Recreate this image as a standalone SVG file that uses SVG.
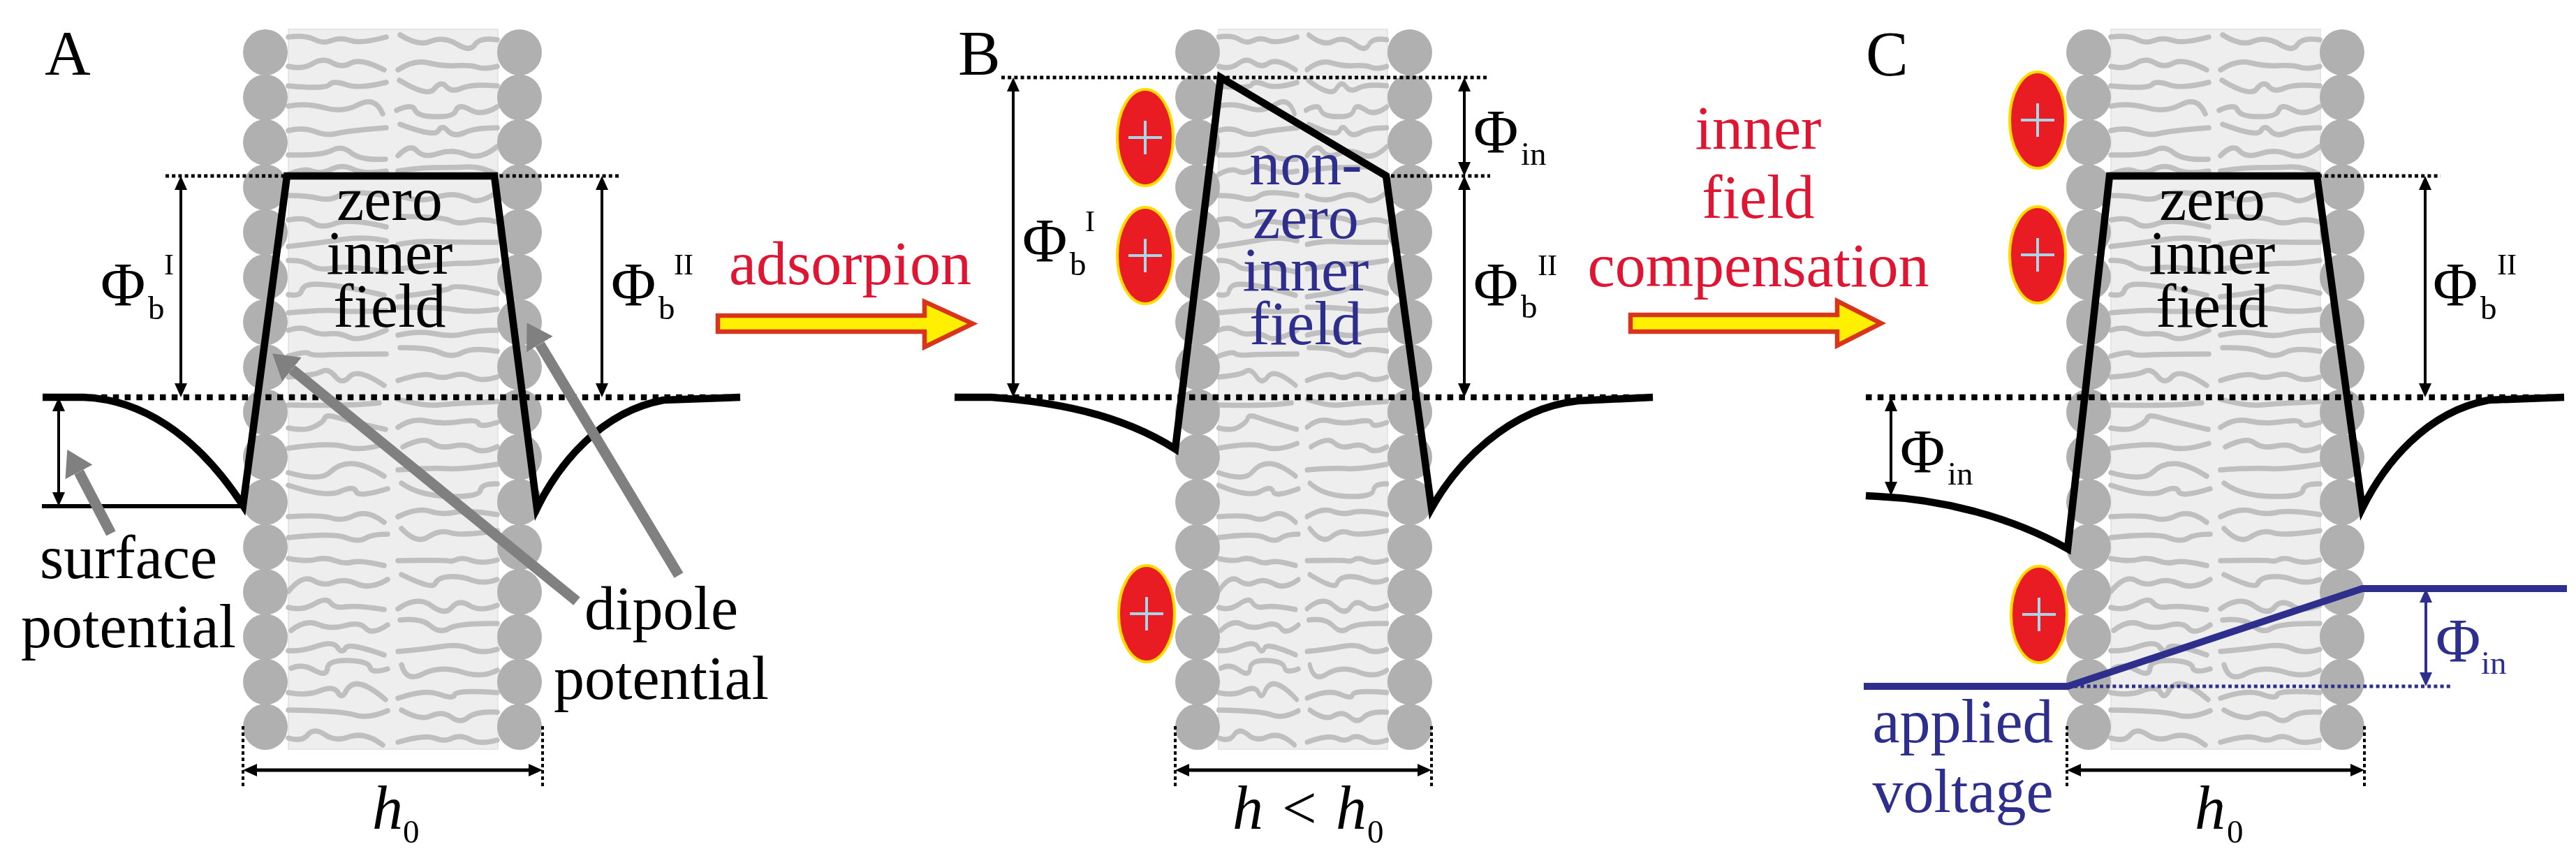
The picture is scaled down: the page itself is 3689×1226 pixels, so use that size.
<svg xmlns="http://www.w3.org/2000/svg" xmlns:xlink="http://www.w3.org/1999/xlink" width="3689" height="1226" viewBox="0 0 3689 1226">
<style>
text{font-family:"Liberation Serif","Times New Roman",serif;font-size:88px;fill:#000}
.ctr{text-anchor:middle}
.sub{font-size:47px}
.sup{font-size:42px}
.it{font-style:italic}
.red{fill:#de1232}
.navy{fill:#2f2d8c}
.bg{fill:#eeeeee;stroke:#e0e0e0;stroke-width:1.5}
.tails path{fill:none;stroke:#bfbfbf;stroke-width:7.5;stroke-linecap:round;stroke-linejoin:round}
.head{fill:#b0b0b0}
.line{fill:none;stroke:#000;stroke-linejoin:miter}
.well{stroke-width:10.5}
.dotthin{stroke:#000;stroke-width:5;stroke-dasharray:5 4.2;fill:none}
.dotthick{stroke:#000;stroke-width:8.5;stroke-dasharray:8.5 8.3;fill:none}
.dash{stroke:#000;stroke-width:4;stroke-dasharray:5 4;fill:none}
.dim{stroke:#000;stroke-width:4;fill:none;marker-start:url(#tipK);marker-end:url(#tipK)}
.dimh{stroke:#000;stroke-width:5;fill:none;marker-start:url(#tipK);marker-end:url(#tipK)}
.dimn{stroke:#2f2d8c;stroke-width:4;fill:none;marker-start:url(#tipN);marker-end:url(#tipN)}
.grey{stroke:#808080;stroke-width:15;fill:none;marker-end:url(#tipG)}
.big{fill:#ffef00;stroke:#d8341e;stroke-width:6.5}
.ion{fill:#e81c24;stroke:#ffdc00;stroke-width:4}
.plus{stroke:#a8d6e8;stroke-width:4;fill:none}
.volt{fill:none;stroke:#2f2d8c;stroke-width:10;stroke-linejoin:miter}
</style>
<defs>
<filter id="soft" x="0" y="0" width="100%" height="100%"><feGaussianBlur stdDeviation="0.7"/></filter>
<marker id="tipK" markerUnits="userSpaceOnUse" markerWidth="22" markerHeight="22" viewBox="0 -11 22 22" refX="0" refY="0" orient="auto-start-reverse"><path d="M0 -9L20 0L0 9z" fill="#000"/></marker>
<marker id="tipN" markerUnits="userSpaceOnUse" markerWidth="22" markerHeight="22" viewBox="0 -11 22 22" refX="0" refY="0" orient="auto-start-reverse"><path d="M0 -9L20 0L0 9z" fill="#2f2d8c"/></marker>
<marker id="tipG" markerUnits="userSpaceOnUse" markerWidth="38" markerHeight="48" viewBox="0 -24 38 48" refX="0" refY="0" orient="auto"><path d="M0 -22L36 0L0 22z" fill="#808080"/></marker>
<g id="tails" class="tails">
<path d="M413 53Q437 50 450 56.5Q463 63 475 58Q487 53 502 58Q517 63 553 53"/>
<path d="M573 50Q600 67 617 59Q635 52 654 63Q673 75 680 64Q687 53 712 57"/>
<path d="M413 95Q433 100 448 91Q463 82 476 90Q490 98 503 90Q517 83 550 100"/>
<path d="M570 100Q593 85 613 90Q633 95 653 94Q673 93 683 96Q693 100 712 95"/>
<path d="M413 123Q468 128 472 121Q477 115 495 121Q513 128 553 118"/>
<path d="M572 115Q613 140 622 127Q632 115 639 124Q647 133 662 126Q677 120 712 123"/>
<path d="M413 152Q437 147 463 154Q490 162 513 150Q537 137 548 163"/>
<path d="M568 158Q590 148 594 157Q598 167 624 167Q650 168 653 158Q657 148 673 157Q690 167 712 153"/>
<path d="M413 187Q433 182 450 188Q467 195 483 191Q500 187 553 183"/>
<path d="M573 178Q623 197 628 187Q633 178 641 187Q650 197 665 190Q680 183 712 183"/>
<path d="M413 222Q463 223 476 215Q490 208 503 219Q517 230 552 228"/>
<path d="M570 223Q587 205 597 216Q607 227 627 220Q647 213 667 221Q687 230 712 210"/>
<path d="M413 250Q435 240 447 245Q460 250 475 242Q490 235 505 242Q520 250 553 245"/>
<path d="M570 245Q600 240 625 240Q650 240 670 239Q690 238 712 250"/>
<path d="M413 280Q440 280 456 284Q473 288 486 280Q500 272 553 280"/>
<path d="M570 280Q600 290 620 284Q640 278 651 279Q663 280 675 286Q687 292 712 275"/>
<path d="M413 315Q437 310 448 319Q460 328 480 320Q500 312 553 325"/>
<path d="M570 310Q633 310 645 316Q657 322 675 317Q693 312 712 318"/>
<path d="M413 353Q457 348 490 343Q523 338 553 345"/>
<path d="M570 350Q600 345 622 346Q645 347 712 347"/>
<path d="M413 373Q433 372 445 380Q457 388 478 384Q500 380 553 390"/>
<path d="M570 385Q643 377 660 377Q677 378 712 373"/>
<path d="M413 422Q430 425 432 416Q435 407 451 407Q467 407 492 411Q517 415 550 423"/>
<path d="M570 425Q640 417 646 412Q653 407 712 420"/>
<path d="M413 448Q467 443 483 445Q500 447 553 445"/>
<path d="M570 440Q633 440 655 444Q677 448 712 443"/>
<path d="M413 473Q430 467 443 473Q457 480 472 478Q487 477 500 483Q513 490 553 473"/>
<path d="M570 480Q600 473 623 478Q647 483 665 478Q683 473 712 473"/>
<path d="M413 510Q437 503 442 506Q447 510 473 508Q500 507 553 507"/>
<path d="M573 498Q613 497 630 505Q647 513 662 505Q677 497 712 503"/>
<path d="M413 540Q453 537 461 532Q470 527 480 539Q490 552 501 539Q513 527 550 552"/>
<path d="M570 545Q607 533 620 538Q633 543 648 538Q663 533 676 540Q690 547 712 540"/>
<path d="M413 580Q500 582 543 577"/>
<path d="M570 572Q607 582 628 580Q650 578 712 575"/>
<path d="M413 613Q437 618 450 611Q463 605 465 599Q467 593 483 598Q500 603 552 615"/>
<path d="M570 612Q590 598 611 603Q633 608 658 604Q683 600 685 606Q687 613 712 605"/>
<path d="M413 642Q473 633 495 640Q517 647 553 635"/>
<path d="M577 640Q607 625 618 634Q630 643 648 639Q667 635 678 642Q690 650 712 640"/>
<path d="M413 677Q460 690 473 676Q487 663 505 664Q523 665 550 682"/>
<path d="M570 673Q613 670 636 671Q660 673 712 665"/>
<path d="M413 695Q467 713 487 704Q507 695 510 704Q513 713 555 700"/>
<path d="M575 692Q600 710 643 711Q687 712 688 702Q690 692 712 693"/>
<path d="M413 740Q460 737 475 742Q490 747 508 738Q527 730 550 748"/>
<path d="M570 740Q597 727 615 732Q633 738 650 734Q667 730 712 737"/>
<path d="M413 770Q477 763 495 770Q513 777 523 771Q533 765 555 765"/>
<path d="M575 757Q597 780 613 769Q630 758 645 763Q660 768 712 760"/>
<path d="M413 800Q440 805 453 801Q467 798 480 803Q493 808 505 805Q517 802 550 810"/>
<path d="M570 803Q633 802 640 803Q647 805 655 801Q663 798 676 803Q690 808 712 802"/>
<path d="M413 847Q433 823 448 831Q463 840 478 834Q493 828 511 836Q530 845 555 830"/>
<path d="M575 823Q620 845 623 836Q627 827 643 826Q660 825 676 831Q693 837 712 830"/>
<path d="M413 870Q433 875 450 865Q467 855 473 863Q480 872 496 869Q513 867 550 873"/>
<path d="M570 872Q597 853 617 867Q637 882 647 870Q657 858 672 867Q687 877 712 867"/>
<path d="M417 903Q437 887 455 894Q473 902 494 896Q515 890 524 900Q533 910 555 895"/>
<path d="M573 888Q603 885 616 896Q630 908 643 900Q657 892 712 893"/>
<path d="M413 932Q433 933 455 925Q477 918 483 927Q490 937 495 928Q500 920 550 938"/>
<path d="M570 933Q607 930 632 926Q657 922 673 929Q690 937 712 930"/>
<path d="M417 957Q433 950 450 960Q468 970 469 957Q470 945 499 946Q528 947 530 956Q532 965 555 958"/>
<path d="M575 952Q582 978 606 965Q630 953 660 962Q690 972 712 960"/>
<path d="M413 992Q440 997 459 989Q478 982 484 992Q490 1002 496 989Q503 977 516 980Q530 983 552 1002"/>
<path d="M570 1000Q607 987 628 994Q650 1002 651 995Q653 988 712 992"/>
<path d="M413 1017Q490 1018 508 1024Q527 1030 555 1018"/>
<path d="M575 1017Q603 1033 618 1025Q633 1018 646 1027Q660 1037 671 1027Q683 1018 712 1020"/>
<path d="M413 1057Q433 1063 441 1052Q450 1042 465 1052Q480 1063 501 1055Q523 1048 548 1067"/>
<path d="M570 1063Q607 1052 622 1057Q637 1063 648 1057Q660 1052 673 1059Q687 1067 712 1060"/>
</g>
<g id="col" class="head">
<ellipse cy="75" rx="32" ry="33"/><ellipse cy="139.4" rx="32" ry="33"/><ellipse cy="203.8" rx="32" ry="33"/><ellipse cy="268.2" rx="32" ry="33"/>
<ellipse cy="332.6" rx="32" ry="33"/><ellipse cy="397" rx="32" ry="33"/><ellipse cy="461.4" rx="32" ry="33"/><ellipse cy="525.8" rx="32" ry="33"/>
<ellipse cy="590.2" rx="32" ry="33"/><ellipse cy="654.6" rx="32" ry="33"/><ellipse cy="719" rx="32" ry="33"/><ellipse cy="783.4" rx="32" ry="33"/>
<ellipse cy="847.8" rx="32" ry="33"/><ellipse cy="912.2" rx="32" ry="33"/><ellipse cy="976.6" rx="32" ry="33"/><ellipse cy="1041" rx="32" ry="33"/>
</g>
<g id="ionshape"><ellipse class="ion" rx="40" ry="69"/><path class="plus" d="M-24 0H24M0 -24V24"/></g>
</defs>
<rect width="3689" height="1226" fill="#fff"/>
<g filter="url(#soft)">
<g id="membrane-A">
<rect class="bg" x="413" y="42" width="300" height="1031"/>
<use href="#tails"/>
<use href="#col" x="380"/><use href="#col" x="744"/>
</g>
<g id="membrane-B">
<rect class="bg" x="1745" y="42" width="242" height="1031"/>
<use href="#tails" transform="matrix(.8067 0 0 1 1411.8 0)"/>
<use href="#col" x="1715"/><use href="#col" x="2019"/>
</g>
<g id="membrane-C">
<rect class="bg" x="3023" y="42" width="300" height="1031"/>
<use href="#tails" transform="translate(2610 0)"/>
<use href="#col" x="2991"/><use href="#col" x="3354"/>
</g>
<g id="ions">
<use id="ion-B1" href="#ionshape" x="1640" y="197"/>
<use id="ion-B2" href="#ionshape" x="1640" y="366"/>
<use id="ion-B3" href="#ionshape" x="1642" y="879"/>
<use id="ion-C1" href="#ionshape" x="2918" y="172"/>
<use id="ion-C2" href="#ionshape" x="2918" y="365"/>
<use id="ion-C3" href="#ionshape" x="2920" y="880"/>
</g>
<g id="connectors">
<!-- panel A -->
<path class="dotthin" d="M237 252H888"/>
<path class="dotthick" d="M61 569H1060"/>
<path class="line well" d="M61 569L120 569C200 572 280 620 348 724L411 252H708L769 728C800 665 860 590 950 573L1060 569"/>
<path class="line" stroke-width="6" d="M60 725H346"/>
<path class="dim" d="M259 272V549"/>
<path class="dim" d="M862 272V549"/>
<path class="dim" d="M84 589V705"/>
<path class="grey" d="M826 861L418 529"/>
<path class="grey" d="M972 824L773 493"/>
<path class="grey" d="M159 764L113 676"/>
<path class="dash" d="M348 1040V1128M777 1040V1128"/>
<path class="dimh" d="M368 1103H757"/>
<!-- panel B -->
<path class="dotthin" d="M1434 111H2130M1992 252H2134"/>
<path class="dotthick" d="M1367 569H2367"/>
<path class="line well" d="M1367 569L1420 569C1500 575 1600 590 1683 643L1748 111L1985 252L2050 728C2085 665 2160 585 2260 574L2367 569"/>
<path class="dim" d="M1451 131V549"/>
<path class="dim" d="M2097 131V232"/>
<path class="dim" d="M2097 272V549"/>
<path class="dash" d="M1683 1040V1128M2050 1040V1128"/>
<path class="dimh" d="M1703 1103H2030"/>
<!-- panel C -->
<path class="dotthin" d="M3320 252H3495"/>
<path class="dotthick" d="M2672 569H3672"/>
<path class="line well" d="M2672 710L2690 711C2780 715 2880 740 2961 786L3021 252H3318L3383 728C3414 665 3474 590 3564 573L3672 569"/>
<path class="dim" d="M3473 272V549"/>
<path class="dim" d="M2708 589V690"/>
<path class="dash" d="M2960 1040V1128M3386 1040V1128"/>
<path class="dimh" d="M2980 1103H3366"/>
<path class="dotthin" style="stroke:#2f2d8c" d="M2961 983H3510"/>
<path class="volt" d="M2669 983H2961L3383 843H3676"/>
<path class="dimn" d="M3474 863V963"/>
</g>
<g id="arrow-adsorption"><path class="big" d="M1028 452H1324V432L1393 463.5L1324 497V475H1028z"/></g>
<g id="arrow-compensation"><path class="big" d="M2335 451H2631V431L2694 463L2631 495V475H2335z"/></g>
<g id="labels-A">
<text x="64" y="107" style="font-size:91px">A</text>
<text class="ctr" x="558" y="315">zero</text><text class="ctr" x="558" y="392">inner</text><text class="ctr" x="558" y="468">field</text>
<text x="144" y="437">Φ</text><text class="sub" x="212" y="457">b</text><text class="sup" x="235" y="393">I</text>
<text x="875" y="437">Φ</text><text class="sub" x="943" y="457">b</text><text class="sup" x="965" y="393">II</text>
<text class="ctr" x="184" y="828">surface</text><text class="ctr" x="184" y="927">potential</text>
<text class="ctr" x="947" y="901">dipole</text><text class="ctr" x="947" y="1001">potential</text>
<text class="it" x="533" y="1187">h</text><text class="sub" x="577" y="1207">0</text>
</g>
<g id="label-adsorption"><text class="red" x="1044" y="407">adsorpion</text></g>
<g id="labels-B">
<text x="1372" y="107" style="font-size:91px">B</text>
<text class="ctr navy" x="1870" y="264">non-</text><text class="ctr navy" x="1870" y="341">zero</text><text class="ctr navy" x="1870" y="416">inner</text><text class="ctr navy" x="1870" y="493">field</text>
<text x="1464" y="374">Φ</text><text class="sub" x="1532" y="394">b</text><text class="sup" x="1554" y="331">I</text>
<text x="2110" y="218">Φ</text><text class="sub" x="2178" y="236">in</text>
<text x="2110" y="437">Φ</text><text class="sub" x="2178" y="455">b</text><text class="sup" x="2202" y="394">II</text>
<text y="1187"><tspan class="it" x="1765">h</tspan><tspan x="1836">&lt;</tspan><tspan class="it" x="1913">h</tspan><tspan class="sub" x="1958" dy="20">0</tspan></text>
</g>
<g id="label-compensation"><text class="ctr red" x="2518" y="213">inner</text><text class="ctr red" x="2518" y="312">field</text><text class="ctr red" x="2518" y="410">compensation</text></g>
<g id="labels-C">
<text x="2672" y="108" style="font-size:91px">C</text>
<text class="ctr" x="3168" y="315">zero</text><text class="ctr" x="3168" y="392">inner</text><text class="ctr" x="3168" y="468">field</text>
<text x="3484" y="437">Φ</text><text class="sub" x="3552" y="457">b</text><text class="sup" x="3576" y="393">II</text>
<text x="2721" y="676">Φ</text><text class="sub" x="2789" y="694">in</text>
<text class="navy" x="3488" y="947">Φ</text><text class="sub navy" x="3553" y="965">in</text>
<text class="ctr navy" x="2811" y="1063">applied</text><text class="ctr navy" x="2811" y="1163">voltage</text>
<text class="it" x="3143" y="1187">h</text><text class="sub" x="3189" y="1207">0</text>
</g>
</g>
</svg>
